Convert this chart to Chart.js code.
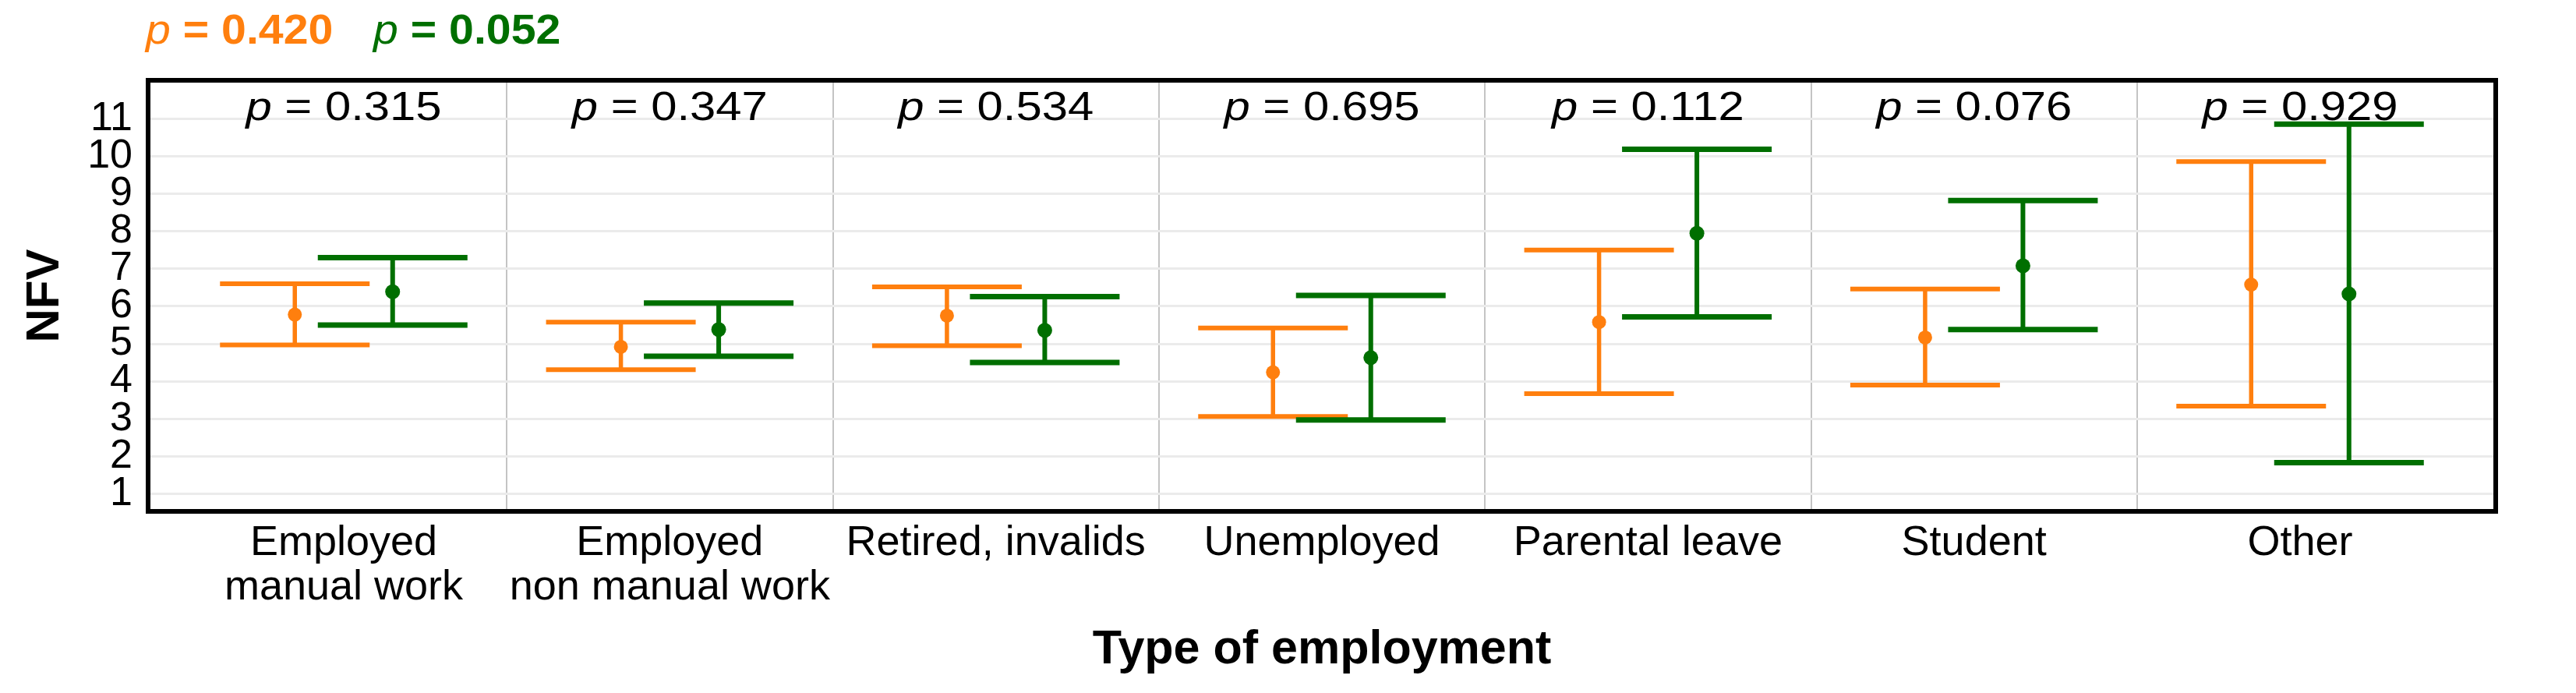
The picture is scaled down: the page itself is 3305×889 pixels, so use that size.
<!DOCTYPE html>
<html>
<head>
<meta charset="utf-8">
<script src="https://cdn.jsdelivr.net/npm/chart.js@4.4.1/dist/chart.umd.min.js"></script>
<style>
html,body{margin:0;padding:0;background:#ffffff;}
#wrap{width:3305px;height:889px;position:relative;}
</style>
</head>
<body>
<div id="wrap"><canvas id="c"></canvas></div>
<script>
// ---------- data ----------
const categories = [["Employed","manual work"],["Employed","non manual work"],"Retired, invalids","Unemployed","Parental leave","Student","Other"];
const catPositions = [1,2,3,4,5,6,7];
const separatorPositions = [1.5,2.5,3.5,4.5,5.5,6.5];
const yTickValues = [1,2,3,4,5,6,7,8,9,10,11];

const orangeMean  = [5.78, 4.92, 5.75, 4.24, 5.58, 5.17, 6.58];
const orangeLower = [4.97, 4.31, 4.95, 3.06, 3.67, 3.90, 3.34];
const orangeUpper = [6.60, 5.58, 6.52, 5.42, 7.50, 6.46, 9.86];

const greenMean  = [6.39, 5.38, 5.36, 4.63, 7.95, 7.08, 6.33];
const greenLower = [5.50, 4.67, 4.50, 2.97, 5.72, 5.38, 1.83];
const greenUpper = [7.30, 6.09, 6.26, 6.29, 10.19, 8.82, 10.86];

const pValues = ["0.315","0.347","0.534","0.695","0.112","0.076","0.929"];
const overallP = ["0.420","0.052"];
const pLabelY = 11;

// ---------- style ----------
const FONT = '"Liberation Sans", Arial, Helvetica, sans-serif';
const ORANGE = '#ff7f0e';
const GREEN = '#006f00';
const DODGE = 0.15;

function capsData(pos, lo, hi, off){
  const out = [];
  pos.forEach((p,i)=>{ out.push({x:p+off, y:lo[i]}); out.push({x:p+off, y:hi[i]}); });
  return out;
}
function stemData(pos, lo, hi, off){
  const out = [];
  pos.forEach((p,i)=>{ out.push({x:p+off, y:lo[i]}); out.push({x:p+off, y:hi[i]}); out.push({x:p+off, y:null}); });
  return out;
}
function meanData(pos, m, off){
  return pos.map((p,i)=>({x:p+off, y:m[i]}));
}

function drawP(ctx, x, baseline, pStr, size, bold, color, stretch, align){
  ctx.save();
  const fI = `italic ${size}px ${FONT}`;
  const fR = `${bold?'bold ':''}${size}px ${FONT}`;
  ctx.font = fI; const w1 = ctx.measureText('p').width;
  const rest = ' = ' + pStr;
  ctx.font = fR; const w2 = ctx.measureText(rest).width;
  const total = (w1 + w2) * stretch;
  const x0 = align === 'center' ? x - total/2 : x;
  ctx.translate(x0, baseline);
  ctx.scale(stretch, 1);
  ctx.fillStyle = color;
  ctx.textAlign = 'left';
  ctx.textBaseline = 'alphabetic';
  ctx.font = fI; ctx.fillText('p', 0, 0);
  ctx.font = fR; ctx.fillText(rest, w1, 0);
  ctx.restore();
}

const decor = {
  id: 'decor',
  afterDraw(chart){
    const ctx = chart.ctx, a = chart.chartArea;
    const xs = chart.scales.x, ys = chart.scales.y;
    // per-category p labels
    const by = ys.getPixelForValue(pLabelY) + 1;
    catPositions.forEach((p,i)=>{
      drawP(ctx, xs.getPixelForValue(p), by, pValues[i], 52, false, '#000', 1.15, 'center');
    });
    // overall p values
    drawP(ctx, 187, 56, overallP[0], 54, true, ORANGE, 1.06, 'left');
    drawP(ctx, 479, 56, overallP[1], 54, true, GREEN, 1.06, 'left');
    // frame
    ctx.save();
    ctx.strokeStyle = '#000';
    ctx.lineWidth = 6;
    ctx.strokeRect(a.left, a.top, a.right - a.left, a.bottom - a.top);
    ctx.restore();
  }
};

const datasets = [
  {label:'orange caps', data: capsData(catPositions, orangeLower, orangeUpper, -DODGE), showLine:false,
   pointStyle:'line', pointRadius:96, pointHoverRadius:96, pointBorderWidth:6, pointHoverBorderWidth:6,
   borderColor:ORANGE, backgroundColor:ORANGE, pointBorderColor:ORANGE, order:6},
  {label:'orange stems', data: stemData(catPositions, orangeLower, orangeUpper, -DODGE), showLine:true, spanGaps:false,
   borderColor:ORANGE, borderWidth:5.5, pointRadius:0, pointHoverRadius:0, order:5},
  {label:'orange means', data: meanData(catPositions, orangeMean, -DODGE), showLine:false,
   pointRadius:9, pointHoverRadius:9, pointBorderWidth:0, backgroundColor:ORANGE, pointBackgroundColor:ORANGE, order:4},
  {label:'green caps', data: capsData(catPositions, greenLower, greenUpper, DODGE), showLine:false,
   pointStyle:'line', pointRadius:96, pointHoverRadius:96, pointBorderWidth:7, pointHoverBorderWidth:7,
   borderColor:GREEN, backgroundColor:GREEN, pointBorderColor:GREEN, order:3},
  {label:'green stems', data: stemData(catPositions, greenLower, greenUpper, DODGE), showLine:true, spanGaps:false,
   borderColor:GREEN, borderWidth:6, pointRadius:0, pointHoverRadius:0, order:2},
  {label:'green means', data: meanData(catPositions, greenMean, DODGE), showLine:false,
   pointRadius:9.5, pointHoverRadius:9.5, pointBorderWidth:0, backgroundColor:GREEN, pointBackgroundColor:GREEN, order:1}
];

new Chart(document.getElementById('c'), {
  type: 'scatter',
  data: { datasets },
  options: {
    responsive: true,
    maintainAspectRatio: false,
    animation: false,
    devicePixelRatio: 1,
    events: [],
    layout: { padding: { left: 0, right: 27, top: 86, bottom: 0 } },
    plugins: { legend: { display: false }, tooltip: { enabled: false } },
    scales: {
      x: {
        type: 'linear', position: 'bottom', min: 0.4, max: 7.6,
        afterBuildTicks: s => { s.ticks = catPositions.map(v => ({ value: v })); },
        afterFit: s => { s.height = 889 - 656; },
        grid: { display: false, drawTicks: false },
        border: { display: false },
        ticks: {
          autoSkip: false, maxRotation: 0, minRotation: 0, padding: 13, color: '#000',
          font: { family: FONT, size: 54, lineHeight: 1.055 },
          callback: (v, i) => categories[i]
        },
        title: {
          display: true, text: 'Type of employment', color: '#000',
          font: { family: FONT, size: 61, weight: 'bold', lineHeight: 1.2 },
          padding: { top: 0, bottom: 18 }
        }
      },
      x2: {
        type: 'linear', position: 'top', min: 0.4, max: 7.6,
        afterBuildTicks: s => { s.ticks = separatorPositions.map(v => ({ value: v })); },
        afterFit: s => { s.height = 0; },
        grid: { color: '#c4c4c4', lineWidth: 2, drawTicks: false },
        border: { display: false },
        ticks: { display: false }
      },
      y: {
        type: 'linear', position: 'left', min: 0.53, max: 12.03,
        afterBuildTicks: s => { s.ticks = yTickValues.map(v => ({ value: v })); },
        afterFit: s => { s.width = 190; },
        grid: { color: '#ebebeb', lineWidth: 3, drawTicks: false },
        border: { display: false },
        ticks: { autoSkip: false, padding: 20, color: '#000', font: { family: FONT, size: 52, lineHeight: 1.0 } },
        title: {
          display: true, text: 'NFV', color: '#000',
          font: { family: FONT, size: 60, weight: 'bold', lineHeight: 1.2 },
          padding: { top: 22, bottom: 0 }
        }
      }
    }
  },
  plugins: [decor]
});
</script>
</body>
</html>
